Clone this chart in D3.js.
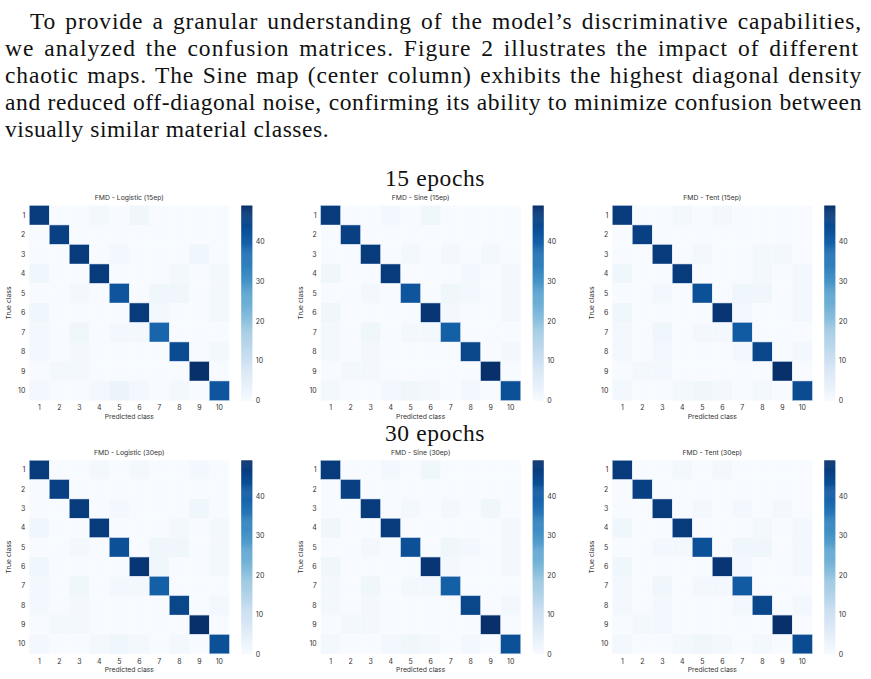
<!DOCTYPE html>
<html><head><meta charset="utf-8">
<script src="https://cdn.jsdelivr.net/npm/d3@7"></script>
<style>body{margin:0;background:#fff;overflow:hidden}</style>
</head><body>
<svg id="c" width="871" height="679"></svg>
<script>
// ---------------- data ----------------
const paragraphLines = [
  "To provide a granular understanding of the model’s discriminative capabilities,",
  "we analyzed the confusion matrices.  Figure 2 illustrates the impact of different",
  "chaotic maps. The Sine map (center column) exhibits the highest diagonal density",
  "and reduced off-diagonal noise, confirming its ability to minimize confusion between",
  "visually similar material classes."
];
const rowHeaders = ["15 epochs", "30 epochs"];
const classes = ["1","2","3","4","5","6","7","8","9","10"];
const panelTitles = [
  ["FMD - Logistic (15ep)", "FMD - Sine (15ep)", "FMD - Tent (15ep)"],
  ["FMD - Logistic (30ep)", "FMD - Sine (30ep)", "FMD - Tent (30ep)"]
];
const colorbarTicks = [0, 10, 20, 30, 40];
const colorMax = 49;
const xAxisLabel = "Predicted class";
const yAxisLabel = "True class";

const logistic15 = [
  [47,0,0,1,0,2,0,0,0,0],
  [0,46,0,0,0,0,0,0,0,0],
  [0,0,47,0,1,0,0,0,2,0],
  [2,0,0,47,0,0,0,1,0,1],
  [0,0,1,0,42,0,2,2,0,1],
  [2,0,0,0,0,47,1,0,0,1],
  [1,0,2,0,1,1,39,0,0,0],
  [1,0,1,0,0,0,0,44,0,1],
  [0,1,1,0,0,0,0,0,49,0],
  [1,0,0,1,3,1,0,1,0,42]
];
const sine15 = [
  [47,0,0,1,0,2,0,0,0,0],
  [0,46,0,0,0,0,0,0,0,0],
  [0,0,47,0,1,0,1,0,1,0],
  [2,0,0,47,0,0,0,1,0,1],
  [0,0,1,0,42,0,2,1,0,1],
  [2,0,0,0,0,48,1,0,0,1],
  [1,0,2,0,1,1,40,0,0,0],
  [1,0,1,0,0,0,0,45,0,1],
  [0,1,1,0,0,0,0,0,49,0],
  [1,0,0,1,2,1,0,1,0,43]
];
const tent15 = [
  [47,0,0,1,0,1,0,0,0,0],
  [0,46,0,0,0,0,0,0,0,0],
  [0,0,47,0,1,0,0,1,1,0],
  [2,0,0,47,0,0,0,1,0,1],
  [0,0,1,0,43,0,2,2,0,1],
  [2,0,0,0,0,48,1,0,0,1],
  [1,0,2,0,1,1,41,0,0,0],
  [1,0,1,0,0,0,1,45,0,1],
  [0,1,1,0,0,0,0,0,49,0],
  [1,0,0,1,2,1,0,1,0,44]
];
const logistic30 = [
  [47,0,0,1,0,1,0,0,1,0],
  [0,46,0,0,0,0,0,0,0,0],
  [0,0,47,0,1,0,0,0,2,0],
  [2,0,0,47,0,0,0,1,0,1],
  [0,0,1,0,43,0,2,2,0,1],
  [2,0,0,0,0,48,2,0,0,1],
  [1,0,2,0,1,1,40,0,0,0],
  [1,0,1,0,0,0,0,45,0,1],
  [0,1,1,0,0,0,0,0,49,0],
  [1,0,0,1,2,1,0,1,0,43]
];
const sine30 = [
  [47,0,0,1,0,2,0,0,0,0],
  [0,46,0,0,0,0,0,0,0,0],
  [0,0,47,0,1,0,1,0,2,0],
  [2,0,0,47,0,0,0,0,0,1],
  [0,0,1,0,43,0,2,1,0,1],
  [2,0,0,0,0,48,1,0,0,1],
  [1,0,2,0,1,1,40,0,0,0],
  [1,0,1,0,0,0,0,45,0,1],
  [0,1,1,0,0,0,0,0,49,0],
  [1,0,0,1,2,1,0,1,0,43]
];
const tent30 = [
  [47,0,0,1,0,1,0,0,0,0],
  [0,46,0,0,0,0,0,0,0,0],
  [0,0,47,0,1,0,1,0,1,0],
  [2,0,0,47,0,0,0,1,0,1],
  [0,0,1,1,43,0,2,2,0,1],
  [2,0,0,0,0,48,1,0,0,1],
  [1,0,2,0,1,1,41,0,0,0],
  [1,0,1,0,0,0,1,45,0,1],
  [0,1,1,0,0,0,0,0,49,0],
  [1,0,0,1,2,1,0,1,0,44]
];
const matrices = [[logistic15, sine15, tent15], [logistic30, sine30, tent30]];

// ---------------- layout ----------------
const svg = d3.select("#c");
const serif = "'Liberation Serif', 'Times New Roman', serif";
const sans = "Inter, Roboto, 'DejaVu Sans', sans-serif";
const textCol = "#333";

// paragraph (justified: part letter-spacing, part word-spacing)
const paraLeft = 5, paraRight = 862, paraTop = 29, lineGap = 27, indent = 25;
const baseLS = 0.55;
paragraphLines.forEach((line, i) => {
  const x0 = i === 0 ? paraLeft + indent : paraLeft;
  const t = svg.append("text")
    .attr("x", x0).attr("y", paraTop + i * lineGap)
    .attr("font-family", serif).attr("font-size", 23.5)
    .style("letter-spacing", baseLS + "px")
    .attr("fill", "#111").text(line);
  if (i < paragraphLines.length - 1) {
    const target = paraRight - x0;
    let w = t.node().getComputedTextLength();
    const extraLS = 0.55 * (target - w) / line.length;
    t.style("letter-spacing", (baseLS + extraLS) + "px");
    w = t.node().getComputedTextLength();
    const spaces = (line.match(/ /g) || []).length;
    t.style("word-spacing", ((target - w) / spaces) + "px");
  }
});

const color = d3.scaleSequential(d3.interpolateBlues).domain([0, colorMax]);
const panelX = [29.3, 320.7, 612.3];
const rowTop = [205.5, 460.3];
const rowH = [195, 193.5];
const headerY = [186, 441];
const matW = 200;

rowHeaders.forEach((h, r) => {
  svg.append("text").attr("x", 435).attr("y", headerY[r])
    .attr("text-anchor", "middle").attr("font-family", serif)
    .attr("font-size", 23.5).style("letter-spacing", "0.6px")
    .attr("fill", "#111").text(h);

  matrices[r].forEach((m, c) => {
    const H = rowH[r];
    const g = svg.append("g").attr("transform", `translate(${panelX[c]},${rowTop[r]})`);
    const x = d3.scaleBand().domain(classes).range([0, matW]);
    const y = d3.scaleBand().domain(classes).range([0, H]);

    const cells = [];
    m.forEach((row, i) => row.forEach((v, j) => cells.push({r: classes[i], c: classes[j], v})));
    g.selectAll("rect.cell").data(cells).enter().append("rect")
      .attr("class", "cell")
      .attr("x", d => x(d.c)).attr("y", d => y(d.r))
      .attr("width", x.bandwidth()).attr("height", y.bandwidth())
      .attr("fill", d => color(d.v))
      .attr("stroke", d => d.v > 20 ? "rgba(190,205,230,0.9)" : "none")
      .attr("stroke-width", 0.6);

    // axes
    const xa = g.append("g").attr("transform", `translate(0,${H})`)
      .call(d3.axisBottom(x).tickSize(0).tickPadding(5));
    const ya = g.append("g").call(d3.axisLeft(y).tickSize(0).tickPadding(4));
    [xa, ya].forEach(a => {
      a.select(".domain").remove();
      a.selectAll("text").attr("font-family", sans).attr("font-size", 7).attr("fill", textCol);
    });

    g.append("text").attr("x", matW / 2).attr("y", -5.5)
      .attr("text-anchor", "middle").attr("font-family", sans)
      .attr("font-size", 6.8).attr("fill", textCol).text(panelTitles[r][c]);
    g.append("text").attr("x", matW / 2).attr("y", H + 18.5)
      .attr("text-anchor", "middle").attr("font-family", sans)
      .attr("font-size", 6.8).attr("fill", textCol).text(xAxisLabel);
    g.append("text").attr("transform", `translate(-18,${H / 2}) rotate(-90)`)
      .attr("text-anchor", "middle").attr("font-family", sans)
      .attr("font-size", 6.8).attr("fill", textCol).text(yAxisLabel);

    // colorbar
    const cb = g.append("g").attr("transform", `translate(212,0)`);
    const cy = d3.scaleLinear().domain([0, colorMax]).range([H, 0]);
    const steps = d3.range(0, colorMax, colorMax / 200);
    cb.selectAll("rect").data(steps).enter().append("rect")
      .attr("x", 0).attr("width", 11)
      .attr("y", d => cy(d + colorMax / 200))
      .attr("height", d => cy(d) - cy(d + colorMax / 200) + 0.5)
      .attr("fill", d => color(d + colorMax / 400));
    const ca = cb.append("g").attr("transform", "translate(11,0)")
      .call(d3.axisRight(cy).tickValues(colorbarTicks).tickSize(0).tickPadding(3.5));
    ca.select(".domain").remove();
    ca.selectAll("text").attr("font-family", sans).attr("font-size", 7).attr("fill", textCol);
  });
});
</script>
</body></html>
